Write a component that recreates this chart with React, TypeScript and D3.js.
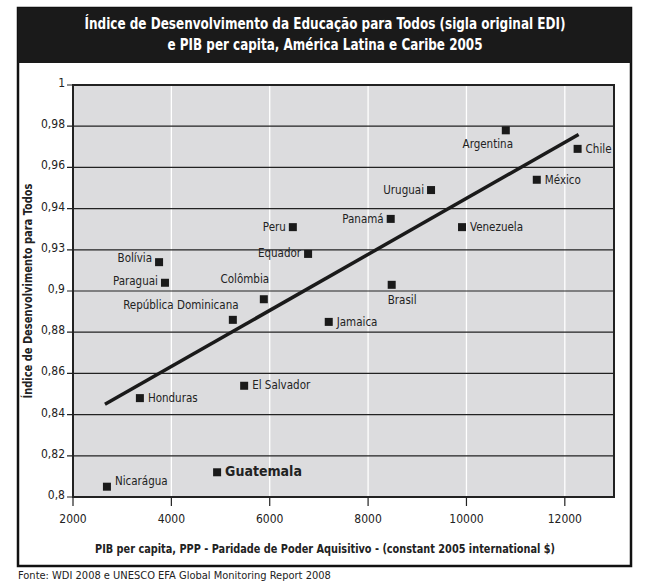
import * as d3 from "d3";

const countries = [
  "Argentina", "Chile", "México", "Uruguai", "Panamá", "Venezuela", "Peru",
  "Equador", "Bolívia", "Paraguai", "Colômbia", "República Dominicana",
  "Jamaica", "Brasil", "El Salvador", "Honduras", "Guatemala", "Nicarágua",
];
const gdp = [
  10800, 12260, 11430, 9280, 8460, 9910, 6470, 6780, 3750, 3870, 5880, 5250,
  7200, 8480, 5480, 3360, 4930, 2690,
];
const edi = [
  0.978, 0.969, 0.954, 0.949, 0.935, 0.931, 0.931, 0.918, 0.914, 0.904,
  0.896, 0.886, 0.885, 0.903, 0.854, 0.848, 0.812, 0.805,
];
const trendX = [2650, 12280];
const trendY = [0.845, 0.976];

const yTicks = [1, 0.98, 0.96, 0.94, 0.92, 0.9, 0.88, 0.86, 0.84, 0.82, 0.8];
const yTickLabels = ["1", "0,98", "0,96", "0,94", "0,93", "0,9", "0,88", "0,86", "0,84", "0,82", "0,8"];
const xTicks = [2000, 4000, 6000, 8000, 10000, 12000];

const title1 = "Índice de Desenvolvimento da Educação para Todos (sigla original EDI)";
const title2 = "e PIB per capita, América Latina e Caribe 2005";
const yTitle = "Índice de Desenvolvimento para Todos";
const xTitle = "PIB per capita, PPP - Paridade de Poder Aquisitivo - (constant 2005 international $)";
const source = "Fonte: WDI 2008 e UNESCO EFA Global Monitoring Report 2008";

// where each label sits relative to its marker
const place: Record<string, [number, number, string]> = {
  Argentina: [-18, 18, "middle"],
  Chile: [8, 4, "start"],
  "México": [8, 4, "start"],
  Uruguai: [-7, 4, "end"],
  "Panamá": [-7, 4, "end"],
  Venezuela: [8, 4, "start"],
  Peru: [-7, 4, "end"],
  Equador: [-7, 3, "end"],
  "Bolívia": [-7, 0, "end"],
  Paraguai: [-7, 2, "end"],
  "Colômbia": [-19, -16, "middle"],
  "República Dominicana": [-52, -11, "middle"],
  Jamaica: [8, 4, "start"],
  Brasil: [-4, 19, "start"],
  "El Salvador": [8, 3, "start"],
  Honduras: [8, 4, "start"],
  Guatemala: [8, 4, "start"],
  "Nicarágua": [8, -2, "start"],
};

const font = "'Liberation Sans Narrow', 'Arial Narrow', 'DejaVu Sans Condensed', sans-serif";

export default function App() {
  const width = 650;
  const height = 583;
  const left = 73, right = 614, top = 85, bottom = 497;

  const x = d3.scaleLinear([2000, 13000], [left, right]);
  const y = d3.scaleLinear([0.8, 1], [bottom, top]);
  const line = d3.line<number>().x((d) => x(trendX[d])).y((d) => y(trendY[d]));

  return (
    <svg width={width} height={height} style={{ position: "absolute", left: 0, top: 0, background: "#fff" }} fontFamily={font}>
      <rect x={18} y={8} width={613} height={558} fill="#fff" stroke="#111" strokeWidth={2.5} />
      <rect x={18} y={8} width={613} height={55} fill="#1a1a1a" />
      <text x={325} y={29} textAnchor="middle" fill="#fff" fontSize={15} fontWeight="bold" textLength={481} lengthAdjust="spacingAndGlyphs">{title1}</text>
      <text x={325} y={50} textAnchor="middle" fill="#fff" fontSize={15} fontWeight="bold" textLength={315} lengthAdjust="spacingAndGlyphs">{title2}</text>

      <rect x={left} y={top} width={right - left} height={bottom - top} fill="#dcdcde" />
      {xTicks.slice(1).map((t) => (
        <line key={t} x1={x(t)} x2={x(t)} y1={top} y2={bottom} stroke="#fff" strokeWidth={1.3} />
      ))}
      {yTicks.map((t) => (
        <line key={t} x1={left - 6} x2={right} y1={y(t)} y2={y(t)} stroke="#222" strokeWidth={1.2} />
      ))}
      {xTicks.map((t) => (
        <line key={t} x1={x(t)} x2={x(t)} y1={bottom} y2={bottom + 9} stroke="#222" strokeWidth={1.2} />
      ))}
      <rect x={left} y={top} width={right - left} height={bottom - top} fill="none" stroke="#222" strokeWidth={2} />

      {yTicks.map((t, i) => (
        <text key={t} x={left - 8} y={y(t) + 2} textAnchor="end" fontSize={12} fill="#222">{yTickLabels[i]}</text>
      ))}
      {xTicks.map((t) => (
        <text key={t} x={x(t)} y={bottom + 26} textAnchor="middle" fontSize={12} fill="#222">{t}</text>
      ))}

      <path d={line([0, 1]) as string} stroke="#1a1a1a" strokeWidth={3.5} fill="none" />

      {countries.map((c, i) => {
        const px = x(gdp[i]);
        const py = y(edi[i]);
        const [dx, dy, anchor] = place[c];
        const big = c === "Guatemala";
        return (
          <g key={c}>
            <rect x={px - 4} y={py - 4} width={8} height={8} fill="#1a1a1a" />
            <text x={px + dx} y={py + dy} textAnchor={anchor} fontSize={big ? 14 : 11.5} fontWeight={big ? "bold" : "normal"} fill="#222">{c}</text>
          </g>
        );
      })}

      <text transform={`translate(32,${(top + bottom) / 2}) rotate(-90)`} textAnchor="middle" fontSize={12} fontWeight="bold" fill="#222" textLength={215} lengthAdjust="spacingAndGlyphs">{yTitle}</text>
      <text x={325} y={553} textAnchor="middle" fontSize={12} fontWeight="bold" fill="#222" textLength={460} lengthAdjust="spacingAndGlyphs">{xTitle}</text>
      <text x={18} y={579} fontSize={11} fill="#222">{source}</text>
    </svg>
  );
}
